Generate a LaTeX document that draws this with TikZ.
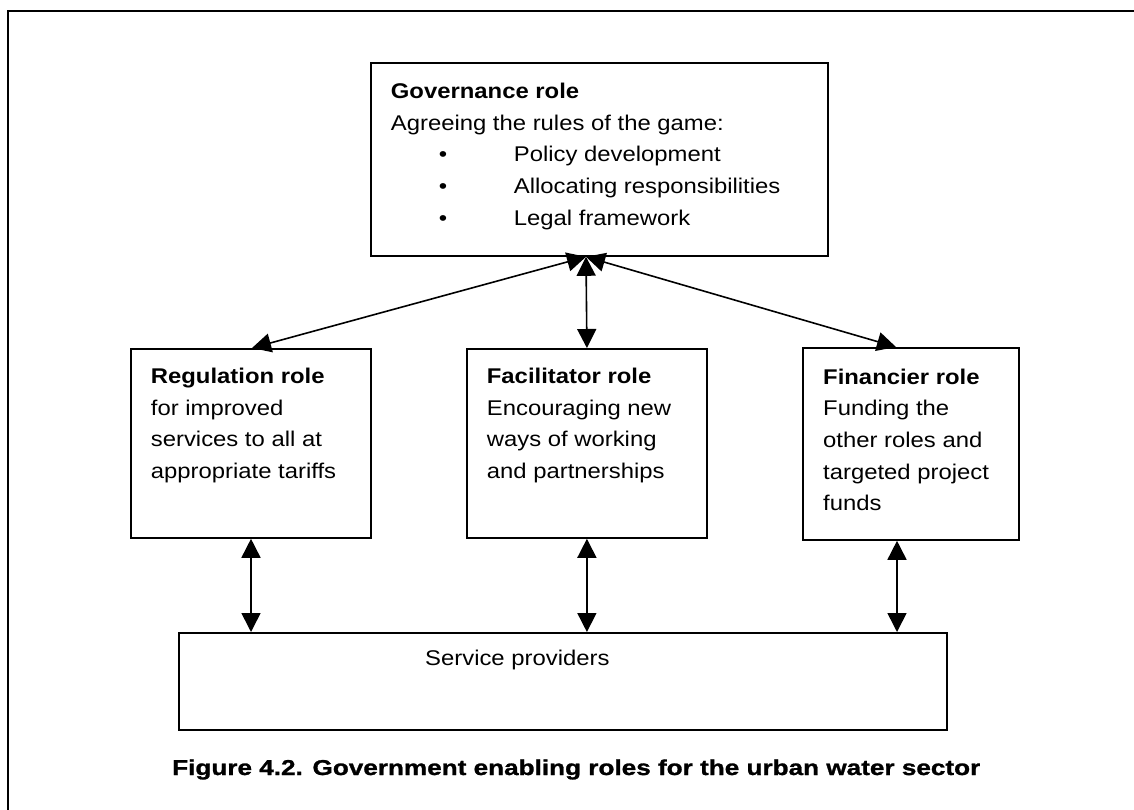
\documentclass[tikz,border=0pt]{standalone}
\usepackage{fontspec}
\setmainfont{Liberation Sans}[FakeStretch=1.12]
\newfontfamily\capfont{Liberation Sans}[FakeStretch=1.215,FakeBold=1.2]
\usetikzlibrary{arrows.meta,calc}
\begin{document}
\begin{tikzpicture}[x=1pt,y=-1pt,
  box/.style={draw,line width=1.8pt,inner sep=0pt,anchor=north west},
  txt/.style={inner sep=0pt,anchor=north west,align=left,font=\fontsize{21.3}{31.7}\selectfont},
  link/.style={line width=1.6pt,{Triangle[length=19pt,width=19pt]}-{Triangle[length=19pt,width=19pt]}},
]
\useasboundingbox (0,0) rectangle (1134,810);
\fill[white] (0,0) rectangle (1134,810);
% frame
\draw[line width=2.4pt] (8,814) -- (8,11) -- (1138,11);

% boxes
\node[box,minimum width=457pt,minimum height=193pt] (gov) at (370,62) {};
\node[box,minimum width=240pt,minimum height=189pt] (reg) at (130,348) {};
\node[box,minimum width=240pt,minimum height=189pt] (fac) at (466,348) {};
\node[box,minimum width=216pt,minimum height=192pt] (fin) at (802,347) {};
\node[box,minimum width=768pt,minimum height=97pt] (sp) at (178,632) {};

% texts
\node[txt] (govt) at (390.7,76.1) {\textbf{Governance role}\strut\\
Agreeing the rules of the game:\\
\hspace*{48pt}\makebox[75pt][l]{•}Policy development\\
\hspace*{48pt}\makebox[75pt][l]{•}Allocating responsibilities\\
\hspace*{48pt}\makebox[75pt][l]{•}Legal framework};
\node[txt] (regt) at (150.7,361.1) {\textbf{Regulation role}\strut\\
for improved\\ services to all at\\ appropriate tariffs};
\node[txt] (fact) at (486.7,361.1) {\textbf{Facilitator role}\strut\\
Encouraging new\\ ways of working\\ and partnerships};
\node[txt] (fint) at (823,361.8) {\textbf{Financier role}\strut\\
Funding the\\ other roles and\\ targeted project\\ funds};
\node[anchor=base west,inner sep=0pt,font=\fontsize{21.3}{25}\selectfont] (spt) at (425,665) {Service providers};
\node[anchor=base west,inner sep=0pt,font=\capfont\bfseries\fontsize{21.5}{25}\selectfont] (cap) at (172,775) {Figure 4.2. Government enabling roles for the urban water sector};

% connector end points
\coordinate (apex) at ($(gov.south west)+(216,0)$);
\coordinate (regtop) at ($(reg.north west)+(122,0)$);
\coordinate (regbot) at ($(reg.south west)+(121,0)$);
\coordinate (finbot) at ($(fin.south west)+(95,0)$);
\coordinate (fintop) at ($(fin.north west)+(94,0)$);
\coordinate (spa) at (regbot |- sp.north);
\coordinate (spb) at (fac.south |- sp.north);
\coordinate (spc) at (finbot |- sp.north);

\draw[link] (apex) -- (regtop);
\draw[link] (apex) -- (fac.north);
\draw[link] (apex) -- (fintop);
\draw[link] (regbot) -- (spa);
\draw[link] (fac.south) -- (spb);
\draw[link] (finbot) -- (spc);
\end{tikzpicture}
\end{document}
